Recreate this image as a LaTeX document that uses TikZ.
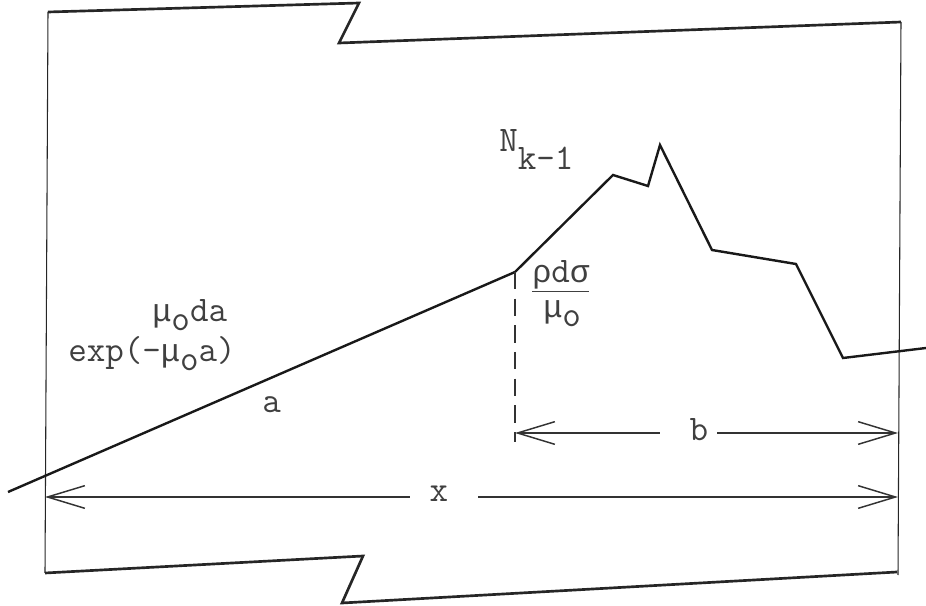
\documentclass[tikz,border=0pt]{standalone}
\usepackage{fontspec}
\newfontfamily\greekmono{Liberation Mono}
\usetikzlibrary{arrows.meta}
\newcommand{\lowsub}[1]{\raisebox{-0.25em}{#1}}
\newcommand{\lowsubb}[1]{\raisebox{-0.5em}{#1}}
\newcommand{\gk}[1]{{\greekmono\fontsize{24}{28}\selectfont #1}}
\tikzset{
  frameside/.style={line width=0.8pt, draw=black!85},
  framecut/.style={line width=2pt, draw=black!85, line join=miter},
  trace/.style={line width=1.8pt, draw=black!90, line join=miter},
  dimline/.style={line width=1.1pt, draw=black!80},
  lbl/.style={inner sep=0pt, anchor=base west, font=\ttfamily\fontsize{27}{30}\selectfont, text=black!75},
  gapnode/.style={inner sep=0pt, font=\ttfamily\fontsize{27}{30}\selectfont, text=black!75},
}
\begin{document}
\begin{tikzpicture}[x=0.75pt,y=-0.75pt]
\useasboundingbox (0,0) rectangle (926,606);
% frame corners
\coordinate (T1) at (48,12);
\coordinate (T2) at (359,3);
\coordinate (T3) at (339,43);
\coordinate (T4) at (901,22);
\coordinate (B1) at (45,573);
\coordinate (B2) at (363,556);
\coordinate (B3) at (342,603);
\coordinate (B4) at (897,572);
\coordinate (RB) at (898,575);
\draw[framecut] (T1) -- (T2) -- (T3) -- (T4);
\draw[framecut] (B1) -- (B2) -- (B3) -- (B4);
\draw[frameside] (T1) -- (B1);
\draw[frameside] (T4) -- (RB);
% trace
\coordinate (P0) at (8,492);
\coordinate (P1) at (515,272);
\coordinate (P2) at (613,175);
\coordinate (P3) at (648,186);
\coordinate (P4) at (660,145);
\coordinate (P5) at (712,250);
\coordinate (P6) at (796,264);
\coordinate (P7) at (843,358);
\coordinate (P8) at (926,348);
\draw[trace] (P0) -- (P1) -- (P2) -- (P3) -- (P4) -- (P5) -- (P6) -- (P7) -- (P8);
% dashed drop
\coordinate (D1) at (515,442);
\draw[dimline, dash pattern=on 13pt off 7pt] (P1) -- (D1);
% b dimension
\coordinate (bL) at (515,433);
\coordinate (bR) at (898,433);
\coordinate (bgL) at (660,433);
\coordinate (bgR) at (717,433);
\node[gapnode] (blab) at (699,430) {b};
\draw[dimline, {Straight Barb[length=28pt,width=17pt]}-] (bL) -- (bgL);
\draw[dimline, -{Straight Barb[length=28pt,width=17pt]}] (bgR) -- (bR);
% x dimension
\coordinate (xL) at (45,497);
\coordinate (xR) at (898,497);
\coordinate (xgL) at (410,497);
\coordinate (xgR) at (478,497);
\node[gapnode] (xlab) at (439,494) {x};
\draw[dimline, {Straight Barb[length=28pt,width=17pt]}-] (xL) -- (xgL);
\draw[dimline, -{Straight Barb[length=28pt,width=17pt]}] (xgR) -- (xR);
% labels
\node[lbl] (lexp) at (68,362) {exp(-\gk{μ}\lowsub{o}a)};
\node[lbl] (la) at (262,412) {a};
\node[lbl] (lmu) at (152,322) {\gk{μ}\lowsub{o}da};
\node[lbl] (lN) at (499,152) {N\lowsubb{k-1}};
\node[lbl] (lnum) at (532,283) {\underline{\gk{ρ}d\gk{σ}}};
\node[lbl] (lden) at (543,318) {\gk{μ}\lowsub{o}};
\end{tikzpicture}
\end{document}
